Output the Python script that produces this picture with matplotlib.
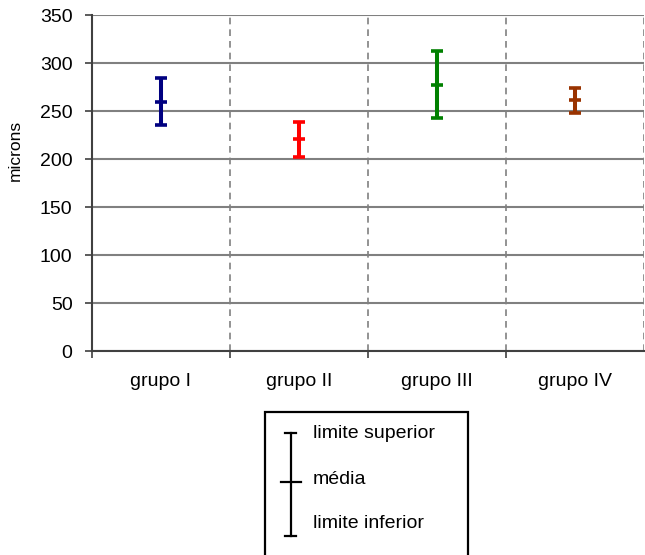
import matplotlib
matplotlib.use("Agg")
import matplotlib.pyplot as plt
from matplotlib.patches import Rectangle
from matplotlib.lines import Line2D

plt.rcParams['font.family'] = ['Liberation Sans', 'DejaVu Sans']

groups = ["grupo I", "grupo II", "grupo III", "grupo IV"]
upper = [284, 239, 312, 274]
mean = [259, 221, 277, 261]
lower = [235, 202, 243, 248]
colors = ["#000080", "#FF0000", "#008000", "#993300"]
yticks = [0, 50, 100, 150, 200, 250, 300, 350]
legend_labels = ["limite superior", "média", "limite inferior"]

W, H = 645, 555
fig = plt.figure(figsize=(W / 100, H / 100), dpi=100)

def fx(px):
    return px / W

def fy(py):
    return 1 - py / H

ax = fig.add_axes([fx(92), fy(351), (644 - 92) / W, (351 - 15) / H])

xs = list(range(len(groups)))
for x, lo, mu, hi, c in zip(xs, lower, mean, upper, colors):
    ax.vlines(x, lo, hi, color=c, lw=2.9, zorder=4)
    ax.plot([x, x, x], [lo, mu, hi], ls='none', marker='_', ms=8, mew=2.6, color=c, zorder=5)

ax.set_xlim(-0.5, len(groups) - 0.5)
ax.set_ylim(0, 350)
ax.set_yticks(yticks)
ax.set_yticklabels([str(v) for v in yticks], fontsize=14)
ax.yaxis.grid(True, color='#808080', lw=1.5, zorder=1)
ax.set_axisbelow(True)

# x ticks: boundaries (major, unlabeled) and centers (minor, labeled)
bounds = [i - 0.5 for i in range(len(groups))]
ax.set_xticks(bounds)
ax.set_xticklabels([])
ax.set_xticks(xs, minor=True)
ax.set_xticklabels(groups, minor=True, fontsize=14)
ax.tick_params(axis='x', which='minor', length=0, pad=16)
ax.tick_params(axis='x', which='major', length=5, width=1.2, color='#404040', direction='out')
ax.tick_params(axis='y', length=5, width=1.2, color='#404040', pad=9)
for b in bounds[1:] + [len(groups) - 0.5]:
    ax.axvline(b, color='#808080', lw=1.2, ls=(0, (4, 3)), zorder=1)

for s in ['top', 'right']:
    ax.spines[s].set_visible(False)
for s in ['left', 'bottom']:
    ax.spines[s].set_color('#404040')
    ax.spines[s].set_linewidth(1.5)

fig.text(fx(15), fy(150), "microns", rotation=90, fontsize=12.5, ha='center', va='center')

# legend box (explanation of the symbol)
fig.patches.append(Rectangle((fx(265), fy(562)), fx(468) - fx(265), fy(412) - fy(562),
                             transform=fig.transFigure, fill=False, ec='black', lw=1.6))
sym_x = 290.5
fig.lines.append(Line2D([fx(sym_x), fx(sym_x)], [fy(433), fy(536)], transform=fig.transFigure, color='black', lw=1.6))
fig.lines.append(Line2D([fx(sym_x - 5.5), fx(sym_x + 5.5)], [fy(433), fy(433)], transform=fig.transFigure, color='black', lw=1.6))
fig.lines.append(Line2D([fx(sym_x - 5.5), fx(sym_x + 5.5)], [fy(536), fy(536)], transform=fig.transFigure, color='black', lw=1.6))
fig.lines.append(Line2D([fx(sym_x - 9.5), fx(sym_x + 10)], [fy(482), fy(482)], transform=fig.transFigure, color='black', lw=1.6))
for lab, py in zip(legend_labels, [434, 479, 523]):
    fig.text(fx(313), fy(py), lab, fontsize=14, ha='left', va='center')

fig.savefig("out.png", dpi=100)
